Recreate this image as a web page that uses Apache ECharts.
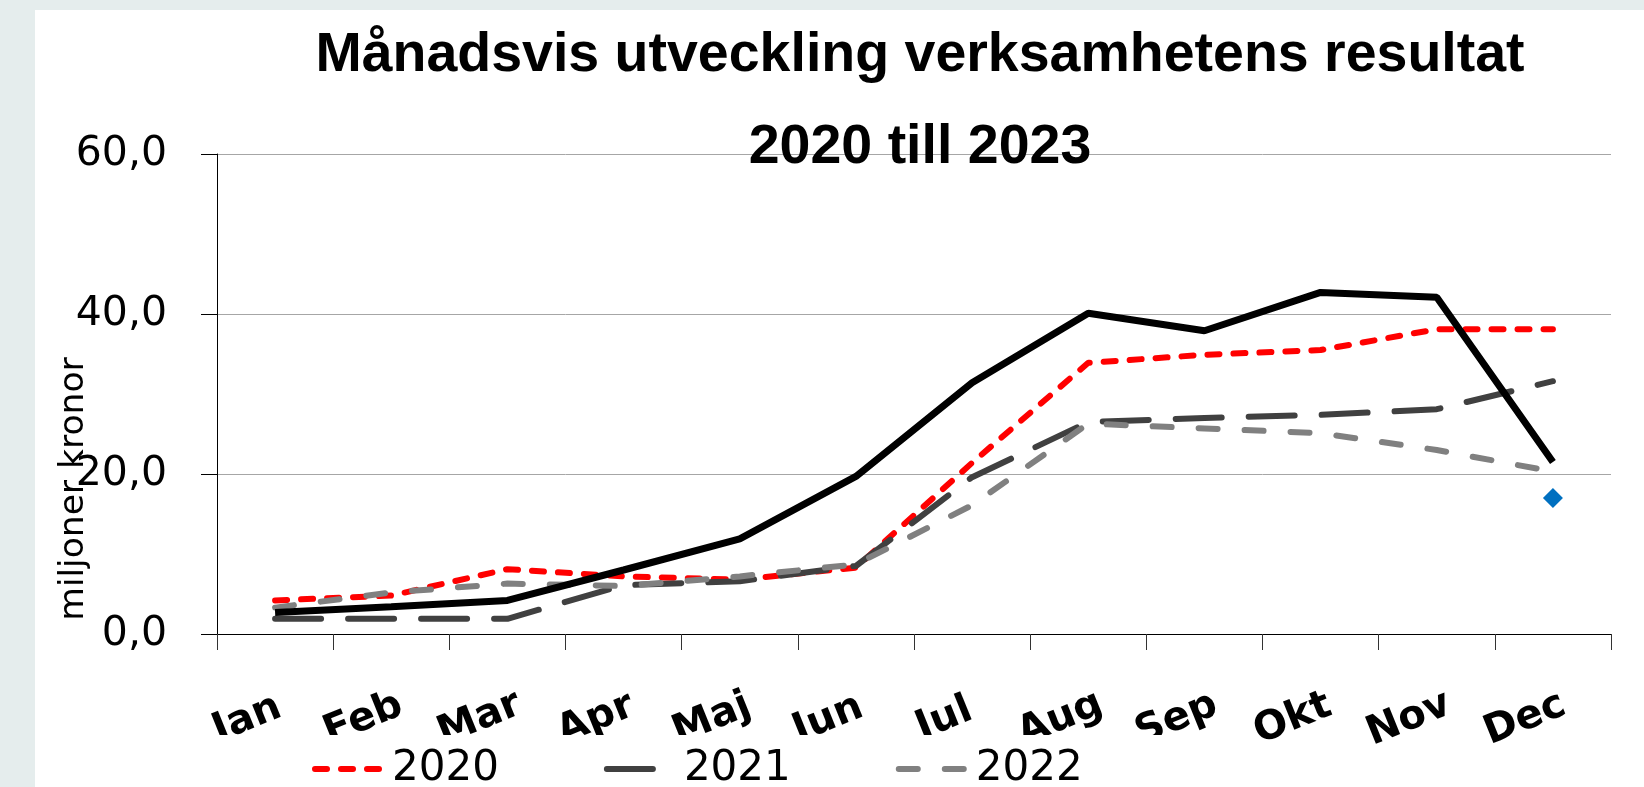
<!DOCTYPE html>
<html>
<head>
<meta charset="utf-8">
<title>Månadsvis utveckling verksamhetens resultat</title>
<script src="https://cdn.jsdelivr.net/npm/echarts@6/dist/echarts.min.js"></script>
<style>
  html, body { margin: 0; padding: 0; }
  body { width: 1644px; height: 787px; background: #e5eded; position: relative; overflow: hidden; }
  #chart { position: absolute; left: 35px; top: 10px; width: 1609px; height: 777px; background: #fff; }
</style>
</head>
<body>
<div id="chart"></div>
<script>
// months on the x axis
const months = ['Jan', 'Feb', 'Mar', 'Apr', 'Maj', 'Jun', 'Jul', 'Aug', 'Sep', 'Okt', 'Nov', 'Dec'];
// results, miljoner kronor
const result2020 = [4.2, 4.8, 8.1, 7.2, 6.8, 8.3, 21.4, 33.9, 34.9, 35.5, 38.1, 38.1];
const result2021 = [1.9, 1.9, 1.9, 6.1, 6.6, 8.5, 19.6, 26.5, 27.0, 27.4, 28.1, 31.6];
const result2022 = [3.3, 5.2, 6.3, 6.0, 7.2, 8.7, 16.1, 26.3, 25.7, 25.1, 23.0, 20.3];
const result2023 = [2.7, 3.4, 4.2, 8.0, 11.9, 19.7, 31.4, 40.1, 37.9, 42.7, 42.1, 21.5];
const marker2023 = [null, null, null, null, null, null, null, null, null, null, null, 17.0];
const yTicks = [0, 20, 40, 60];

// line looks, shared by series and legend
const style2020 = { color: '#ff0000', width: 6, type: [12, 14], cap: 'round' };
const style2021 = { color: '#404040', width: 6, type: [46, 27], cap: 'round' };
const style2022 = { color: '#808080', width: 6, type: [19, 27], cap: 'round' };
const style2023 = { color: '#000000', width: 7, type: 'solid' };

const chart = echarts.init(document.getElementById('chart'));

const option = {
  animation: false,
  title: {
    text: 'Månadsvis utveckling verksamhetens resultat\n2020 till 2023',
    left: 885,
    top: 0,
    padding: 0,
    textAlign: 'center',
    textStyle: {
      fontFamily: 'Liberation Sans',
      fontWeight: 'bold',
      fontSize: 55.5,
      lineHeight: 92,
      color: '#000'
    }
  },
  legend: {
    data: [
      { name: '2020', lineStyle: style2020 },
      { name: '2021', lineStyle: style2021 },
      { name: '2022', lineStyle: style2022 }
    ],
    left: 167,
    top: 725,
    orient: 'horizontal',
    padding: [13, 100, 40, 110],
    backgroundColor: '#fff',
    itemWidth: 72,
    itemHeight: 14,
    itemGap: 105,
    itemStyle: { opacity: 0 },
    textStyle: {
      fontFamily: 'DejaVu Sans',
      fontSize: 42,
      color: '#000'
    }
  },
  grid: {
    left: 182,
    top: 144,
    width: 1394,
    height: 480,
    outerBoundsMode: 'none'
  },
  xAxis: {
    type: 'category',
    data: months,
    boundaryGap: true,
    axisLine: { lineStyle: { color: '#000', width: 1 } },
    axisTick: { show: true, length: 16, alignWithLabel: false, lineStyle: { color: '#333' } },
    axisLabel: {
      interval: 0,
      rotate: 22,
      align: 'center',
      verticalAlign: 'middle',
      margin: 74,
      padding: [0, 60, 0, 0],
      fontFamily: 'DejaVu Sans',
      fontWeight: 'bold',
      fontSize: 40,
      color: '#000'
    },
    splitLine: { show: false }
  },
  yAxis: {
    type: 'value',
    min: yTicks[0],
    max: yTicks[yTicks.length - 1],
    interval: 20,
    name: 'miljoner kronor',
    nameLocation: 'middle',
    nameGap: 125,
    nameMoveOverlap: false,
    nameTextStyle: {
      fontFamily: 'DejaVu Sans',
      fontSize: 34.5,
      color: '#000',
      padding: [0, 190, 0, 0]
    },
    axisLine: { show: true, lineStyle: { color: '#000', width: 1 } },
    axisTick: { show: true, length: 16, lineStyle: { color: '#000' } },
    axisLabel: {
      margin: 50,
      fontFamily: 'DejaVu Sans',
      fontSize: 41,
      color: '#000',
      formatter: v => v.toFixed(1).replace('.', ',')
    },
    splitLine: { lineStyle: { color: '#a6a6a6', width: 1 } }
  },
  series: [
    {
      name: '2020',
      type: 'line',
      data: result2020,
      symbol: 'none',
      lineStyle: style2020,
      itemStyle: { color: style2020.color }
    },
    {
      name: '2021',
      type: 'line',
      data: result2021,
      symbol: 'none',
      lineStyle: style2021,
      itemStyle: { color: style2021.color }
    },
    {
      name: '2022',
      type: 'line',
      data: result2022,
      symbol: 'none',
      lineStyle: style2022,
      itemStyle: { color: style2022.color }
    },
    {
      name: '2023',
      type: 'line',
      data: result2023,
      symbol: 'none',
      lineStyle: style2023,
      itemStyle: { color: style2023.color }
    },
    {
      name: '2023 dec',
      type: 'line',
      data: marker2023,
      symbol: 'diamond',
      symbolSize: 20,
      showSymbol: true,
      lineStyle: { width: 0 },
      itemStyle: { color: '#0070c0' }
    }
  ]
};

chart.setOption(option);
</script>
</body>
</html>
